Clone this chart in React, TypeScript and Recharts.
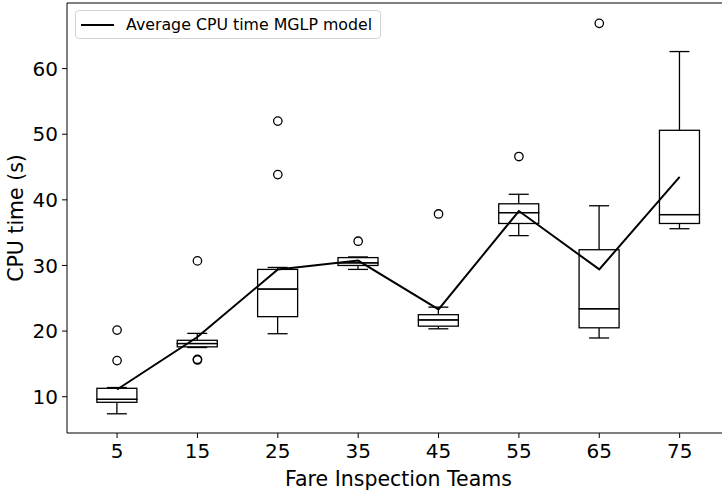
import React from "react";
import {
  ComposedChart,
  Bar,
  Line,
  Scatter,
  XAxis,
  YAxis,
  Legend,
  ReferenceLine,
} from "recharts";

const teams = [5, 15, 25, 35, 45, 55, 65, 75];
const whiskerLow = [7.4, 17.5, 19.6, 29.4, 20.35, 34.55, 18.95, 35.6];
const q1 = [9.15, 17.6, 22.2, 30.0, 20.75, 36.4, 20.5, 36.4];
const median = [9.6, 18.1, 26.4, 30.4, 21.7, 38.05, 23.4, 37.75];
const q3 = [11.28, 18.6, 29.4, 31.2, 22.5, 39.4, 32.4, 50.6];
const whiskerHigh = [11.4, 19.65, 29.7, 31.3, 23.65, 40.85, 39.1, 62.6];
const avgCpu = [11.1, 19.1, 29.4, 30.75, 23.3, 38.3, 29.4, 43.5];
const outlierTeams = [5, 5, 15, 15, 15, 25, 25, 35, 45, 55, 65];
const outlierValues = [20.15, 15.5, 30.7, 15.6, 15.7, 52.0, 43.85, 33.7, 37.85, 46.6, 66.9];
const yTicks = [10, 20, 30, 40, 50, 60];

const data = teams.map((t, i) => ({
  team: t,
  base: whiskerLow[i],
  lowW: q1[i] - whiskerLow[i],
  lowBox: median[i] - q1[i],
  upBox: q3[i] - median[i],
  upW: whiskerHigh[i] - q3[i],
  avg: avgCpu[i],
}));

const outliers = outlierTeams.map((t, i) => ({ team: t, value: outlierValues[i] }));

const FONT = "DejaVu Sans, Verdana, sans-serif";
const SW = 1.3;

const Empty = () => null;

const LowerWhisker = (p: any) => {
  const { x, y, width, height } = p;
  const cx = x + width / 2;
  const bottom = y + height;
  return (
    <g>
      <line x1={cx} x2={cx} y1={y} y2={bottom} stroke="#000" strokeWidth={SW} />
      <line x1={cx - width / 4} x2={cx + width / 4} y1={bottom} y2={bottom} stroke="#000" strokeWidth={SW} />
    </g>
  );
};

const UpperWhisker = (p: any) => {
  const { x, y, width, height } = p;
  const cx = x + width / 2;
  return (
    <g>
      <line x1={cx} x2={cx} y1={y} y2={y + height} stroke="#000" strokeWidth={SW} />
      <line x1={cx - width / 4} x2={cx + width / 4} y1={y} y2={y} stroke="#000" strokeWidth={SW} />
    </g>
  );
};

const BoxPart = (p: any) => {
  const { x, y, width, height } = p;
  return <rect x={x} y={y} width={width} height={Math.max(height, 0)} fill="none" stroke="#000" strokeWidth={SW} />;
};

const Outlier = (p: any) => (
  <circle cx={p.cx} cy={p.cy} r={4.2} fill="none" stroke="#000" strokeWidth={1.3} />
);

const YLabel = (props: any) => {
  const vb = props.viewBox || { x: 0, y: 3, width: 67, height: 430 };
  const cx = vb.x + 16;
  const cy = vb.y + vb.height / 2;
  return (
    <text
      x={cx}
      y={cy}
      transform={`rotate(-90 ${cx} ${cy})`}
      textAnchor="middle"
      dominantBaseline="central"
      fontSize={20.5}
      fontFamily={FONT}
      fill="#000"
    >
      CPU time (s)
    </text>
  );
};

const LegendBox = () => (
  <div
    style={{
      display: "flex",
      alignItems: "center",
      border: "1px solid #d4d4d4",
      borderRadius: 4,
      background: "rgba(255,255,255,0.85)",
      padding: "3px 8px 3px 5px",
      fontFamily: FONT,
      fontSize: 15.8,
      color: "#000",
      whiteSpace: "nowrap",
      lineHeight: "21px",
    }}
  >
    <svg width={33} height={10} style={{ marginRight: 12 }}>
      <line x1={0} x2={33} y1={5} y2={5} stroke="#000" strokeWidth={2} />
    </svg>
    <span>Average CPU time MGLP model</span>
  </div>
);

export default function App() {
  return (
    <div style={{ position: "absolute", left: 0, top: 0, background: "#fff" }}>
      <ComposedChart
        width={722}
        height={492}
        data={data}
        margin={{ top: 3, right: 0, bottom: 0, left: 0 }}
      >
        <XAxis
          dataKey="team"
          type="number"
          domain={[-1.23, 80.27]}
          allowDataOverflow
          ticks={teams}
          height={59}
          tickSize={5}
          tickMargin={6}
          stroke="#000"
          tick={{ fill: "#000", fontSize: 20, fontFamily: FONT }}
          tickLine={{ stroke: "#000" }}
          axisLine={{ stroke: "#000" }}
          label={{
            value: "Fare Inspection Teams",
            position: "insideBottom",
            offset: 6,
            dx: 4,
            fill: "#000",
            fontSize: 20.5,
            fontFamily: FONT,
          }}
        />
        <YAxis
          type="number"
          domain={[4.47, 70]}
          allowDataOverflow
          ticks={yTicks}
          width={67}
          tickSize={5}
          tickMargin={4}
          stroke="#000"
          tick={{ fill: "#000", fontSize: 20, fontFamily: FONT }}
          tickLine={{ stroke: "#000" }}
          axisLine={{ stroke: "#000" }}
          label={<YLabel />}
        />
        <ReferenceLine y={70} stroke="#000" strokeWidth={1} ifOverflow="extendDomain" />
        <Bar dataKey="base" stackId="box" barSize={40} shape={<Empty />} isAnimationActive={false} legendType="none" />
        <Bar dataKey="lowW" stackId="box" barSize={40} shape={<LowerWhisker />} isAnimationActive={false} legendType="none" />
        <Bar dataKey="lowBox" stackId="box" barSize={40} shape={<BoxPart />} isAnimationActive={false} legendType="none" />
        <Bar dataKey="upBox" stackId="box" barSize={40} shape={<BoxPart />} isAnimationActive={false} legendType="none" />
        <Bar dataKey="upW" stackId="box" barSize={40} shape={<UpperWhisker />} isAnimationActive={false} legendType="none" />
        <Line
          dataKey="avg"
          name="Average CPU time MGLP model"
          stroke="#000"
          strokeWidth={2}
          dot={false}
          isAnimationActive={false}
        />
        <Scatter
          data={outliers}
          dataKey="value"
          shape={<Outlier />}
          isAnimationActive={false}
          legendType="none"
        />
        <Legend
          layout="horizontal"
          verticalAlign="middle"
          align="center"
          wrapperStyle={{ top: 10, left: 75, width: "auto", height: "auto" }}
          content={<LegendBox />}
        />
      </ComposedChart>
    </div>
  );
}
